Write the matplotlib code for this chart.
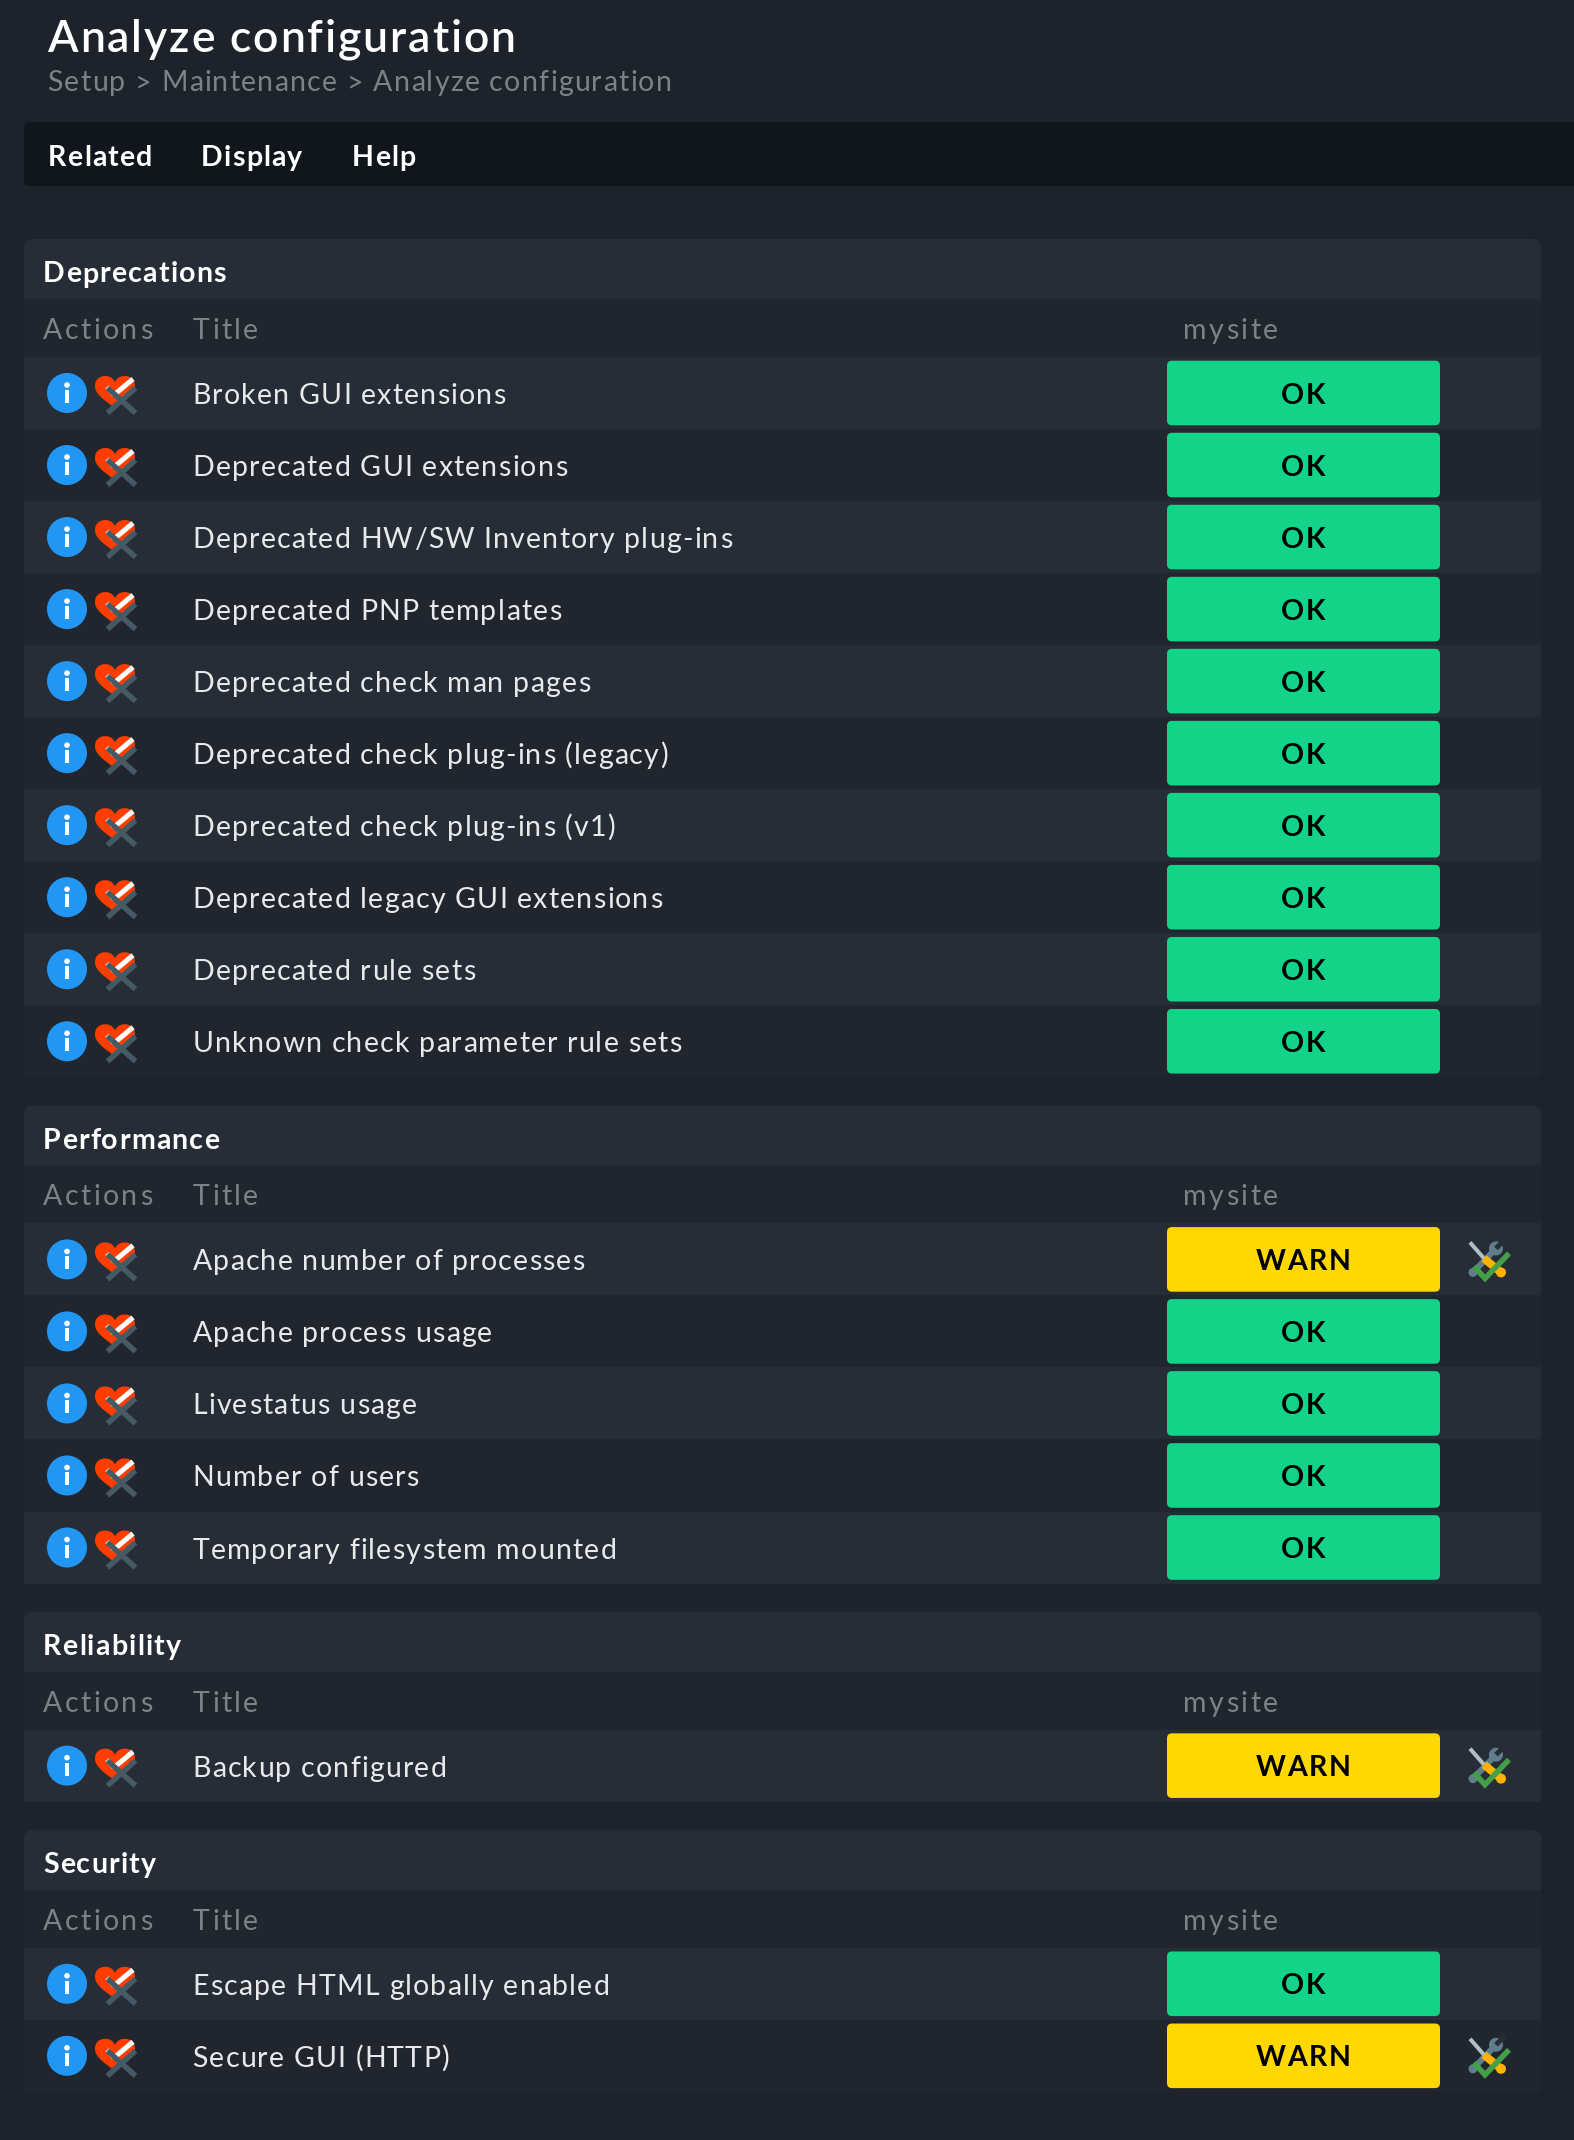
import matplotlib.pyplot as plt
from matplotlib.patches import Rectangle, FancyBboxPatch, Circle, PathPatch
from matplotlib.path import Path
from matplotlib.text import Text
from matplotlib.transforms import IdentityTransform

plt.rcParams['font.family'] = ['Lato', 'DejaVu Sans']

# Sections of the page
deprecations = ['Broken GUI extensions', 'Deprecated GUI extensions', 'Deprecated HW/SW Inventory plug-ins',
                'Deprecated PNP templates', 'Deprecated check man pages', 'Deprecated check plug-ins (legacy)',
                'Deprecated check plug-ins (v1)', 'Deprecated legacy GUI extensions', 'Deprecated rule sets',
                'Unknown check parameter rule sets']
deprecations_state = ['OK'] * 10
performance = ['Apache number of processes', 'Apache process usage', 'Livestatus usage', 'Number of users',
               'Temporary filesystem mounted']
performance_state = ['WARN', 'OK', 'OK', 'OK', 'OK']
reliability = ['Backup configured']
reliability_state = ['WARN']
security = ['Escape HTML globally enabled', 'Secure GUI (HTTP)']
security_state = ['OK', 'WARN']

section_names = ['Deprecations', 'Performance', 'Reliability', 'Security']
section_rows = [deprecations, performance, reliability, security]
section_states = [deprecations_state, performance_state, reliability_state, security_state]
menu_items = ['Related', 'Display', 'Help']
menu_x = [48, 201, 352]
site_name = 'mysite'

BG = '#1e232b'
LIGHT = '#272d37'
DARK = '#21262e'
NAV = '#10161c'
GREY = '#7d8288'
TEXT = '#e8e9ea'
STATE_COLORS = {'OK': '#13d389', 'WARN': '#ffd703'}
ROW_H = 72.03

fig = plt.figure(figsize=(15.74, 21.40), dpi=100, facecolor=BG)
ax = fig.add_axes([0, 0, 1, 1])
ax.set_xlim(0, 1574)
ax.set_ylim(2140, 0)
ax.axis('off')


# matplotlib has no letter-spacing, so this draws the string glyph by glyph
class SpacedText(Text):
    def __init__(self, *args, spacing=0, **kwargs):
        super().__init__(*args, **kwargs)
        self.spacing = spacing

    def draw(self, renderer):
        s = self.get_text()
        prop = self.get_fontproperties()
        x, y = self.get_transform().transform(self.get_position())

        def advance(part):
            bar = renderer.get_text_width_height_descent('|', prop, False)[0]
            return renderer.get_text_width_height_descent(part + '|', prop, False)[0] - bar

        if self.get_ha() == 'center':
            x -= (advance(s) + self.spacing * (len(s) - 1)) / 2
        for i, ch in enumerate(s):
            glyph = Text(x + advance(s[:i]) + self.spacing * i, y, ch, color=self.get_color(), fontproperties=prop,
                         va='baseline', ha='left', transform=IdentityTransform())
            glyph.set_figure(self.get_figure())
            glyph.draw(renderer)


def label(x, y, s, color, size=20.5, spacing=1.2, weight='normal', ha='left'):
    ax.add_artist(SpacedText(x, y, s, color=color, fontsize=size, fontweight=weight, va='baseline', ha=ha,
                             spacing=spacing, zorder=6, transform=ax.transData))


def rounded(x, y, w, h, color, r=5, z=1):
    ax.add_patch(FancyBboxPatch((x + r, y + r), w - 2 * r, h - 2 * r, boxstyle=f'round,pad={r},rounding_size={r}',
                                fc=color, ec='none', zorder=z))


def stroke(xs, ys, color, width, z=4, cap='butt'):
    ax.plot(xs, ys, color=color, lw=width * 0.72, solid_capstyle=cap, solid_joinstyle='miter', zorder=z)


def action_icons(cy):
    # info button
    ax.add_patch(Circle((67, cy), 20, fc='#2196f3', ec='none', zorder=3))
    ax.add_patch(Circle((67, cy - 8), 2.8, fc='white', ec='none', zorder=4))
    ax.add_patch(Rectangle((65, cy - 3), 4.4, 13, fc='white', ec='none', zorder=4))
    # heart
    top = cy - 17
    verts = [(115, top + 32), (104, top + 24), (95, top + 18), (95, top + 10), (95, top + 3), (100, top), (105, top),
             (110, top), (113, top + 2), (115, top + 6), (117, top + 2), (120, top), (125, top), (130, top),
             (135, top + 3), (135, top + 10), (135, top + 18), (126, top + 24), (115, top + 32)]
    codes = [Path.MOVETO] + [Path.CURVE4] * 18
    ax.add_patch(PathPatch(Path(verts, codes), fc='#ff3d00', ec='none', zorder=3))
    stroke([115, 133], [cy + 1, cy - 14], 'white', 5)
    stroke([107, 114], [cy - 6, cy + 2], '#c9d0d4', 5)
    # crossed out
    stroke([107.5, 135.5], [cy + 20, cy - 5], '#455a64', 5.5, z=5)
    stroke([107.5, 135.5], [cy - 5, cy + 20], '#455a64', 5.5, z=5)


def repair_icon(cy):
    # wrench
    stroke([1473, 1495], [cy + 13, cy - 10], '#607d8b', 6)
    ax.add_patch(Circle((1473, cy + 13), 4.5, fc='#607d8b', ec='none', zorder=4))
    ax.add_patch(Circle((1496, cy - 11), 7, fc='#607d8b', ec='none', zorder=4))
    stroke([1496, 1505], [cy - 11, cy - 20], LIGHT, 5)
    # screwdriver
    stroke([1470, 1484], [cy - 17, cy - 1], '#b0bec5', 4)
    stroke([1484, 1501], [cy - 1, cy + 13], '#ffb300', 8, z=5)
    ax.add_patch(Circle((1501, cy + 13), 5, fc='#ffb300', ec='none', zorder=5))
    # check mark
    stroke([1474, 1485, 1509], [cy + 7, cy + 19, cy - 6], '#43a047', 5.5, z=6)


# header
label(47.5, 52, 'Analyze configuration', 'white', size=32, spacing=1.9, weight='semibold')
label(47.5, 91, 'Setup > Maintenance > Analyze configuration', GREY, spacing=1.25)

# menu bar
rounded(24, 122, 1600, 64, NAV)
for name, x in zip(menu_items, menu_x):
    label(x, 166, name, 'white', weight='bold')

top = 239
for name, rows, states in zip(section_names, section_rows, section_states):
    bottom = top + 118 + ROW_H * len(rows)
    rounded(24, top, 1517, 60, LIGHT, r=9)
    ax.add_patch(Rectangle((24, top + 30), 1517, bottom - top - 30, fc=DARK, ec='none', zorder=1))
    ax.add_patch(Rectangle((24, top + 30), 1517, 30, fc=LIGHT, ec='none', zorder=1))
    label(43, top + 43.5, name, 'white', weight='bold')
    label(43, top + 100, 'Actions', GREY, spacing=2.4)
    label(193, top + 100, 'Title', GREY, spacing=2.4)
    label(1183, top + 100, site_name, GREY, spacing=2.4)
    for i, (title, state) in enumerate(zip(rows, states)):
        y = top + 118 + ROW_H * i
        cy = y + 36
        ax.add_patch(Rectangle((24, y), 1517, ROW_H, fc=LIGHT if i % 2 == 0 else DARK, ec='none', zorder=2))
        action_icons(cy)
        label(192.5, cy + 11, title, TEXT)
        rounded(1167, y + 3.7, 273, 64.6, STATE_COLORS[state], r=5, z=3)
        label(1303, cy + 10.5, state, 'black', spacing=1.6, weight='bold', ha='center')
        if state == 'WARN':
            repair_icon(cy)
    top = bottom + 28.1

fig.savefig('out.png', dpi=100, facecolor=BG)
